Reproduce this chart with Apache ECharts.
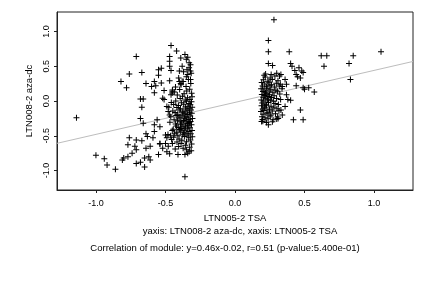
<!DOCTYPE html>
<html>
<head>
<meta charset="utf-8">
<script src="https://cdn.jsdelivr.net/npm/echarts@6/dist/echarts.min.js"></script>
<style>
  html, body { margin: 0; padding: 0; background: #fff; }
  #chart { width: 432px; height: 288px; }
</style>
</head>
<body>
<div id="chart"></div>
<script>
// values
const xTicks = [-1.0, -0.5, 0.0, 0.5, 1.0]
const yTicks = [-1.0, -0.5, 0.0, 0.5, 1.0]
const slope = 0.46
const intercept = -0.02

// left group, scattered points
const leftSparse = [
  [-1.14, -0.24], [-1.0, -0.78], [-0.94, -0.83], [-0.92, -0.92], [-0.86, -0.98],
  [-0.82, 0.28], [-0.78, 0.19], [-0.76, 0.39], [-0.71, 0.64], [-0.67, 0.41],
  [-0.68, 0.03], [-0.66, 0.03], [-0.67, -0.09], [-0.68, -0.25], [-0.66, -0.32],
  [-0.76, -0.53], [-0.77, -0.63], [-0.81, -0.85], [-0.80, -0.82], [-0.77, -0.80],
  [-0.74, -0.75], [-0.72, -0.65], [-0.71, -0.56], [-0.71, -0.70], [-0.71, -0.90],
  [-0.68, -0.88], [-0.67, -0.57], [-0.65, -0.82], [-0.65, -0.95], [-0.64, 0.25],
  [-0.64, -0.68], [-0.62, -0.80], [-0.61, -0.85], [-0.64, -0.47], [-0.63, -0.51],
  [-0.61, -0.65], [-0.60, 0.21], [-0.58, 0.12], [-0.58, 0.28], [-0.57, 0.22],
  [-0.55, 0.37], [-0.55, 0.45], [-0.53, 0.47], [-0.53, 0.26], [-0.59, -0.53],
  [-0.58, -0.44], [-0.58, -0.34], [-0.56, -0.27], [-0.55, -0.77], [-0.54, -0.61],
  [-0.54, -0.37], [-0.52, 0.04], [-0.51, 0.02], [-0.51, 0.15], [-0.54, -0.62],
  [-0.52, -0.68], [-0.50, -0.61], [-0.50, -0.49], [-0.49, -0.53], [-0.49, -0.73],
  [-0.48, -0.65], [-0.47, 0.29], [-0.47, 0.50], [-0.47, 0.64], [-0.46, 0.80],
  [-0.46, 0.44], [-0.47, 0.57], [-0.49, -0.08], [-0.48, -0.15], [-0.47, -0.20],
  [-0.46, 0.09], [-0.45, 0.14], [-0.45, 0.16], [-0.42, 0.72], [-0.40, 0.43],
  [-0.39, 0.62], [-0.38, 0.28], [-0.38, 0.50], [-0.36, 0.67], [-0.35, 0.60],
  [-0.36, -1.09], [-0.34, 0.63], [-0.33, 0.55], [-0.32, 0.52], [-0.32, 0.43],
  [-0.34, 0.38], [-0.35, 0.35], [-0.32, 0.31], [-0.40, 0.28], [-0.39, 0.25],
  [-0.41, -0.77], [-0.36, -0.77], [-0.33, -0.73], [-0.34, -0.75], [-0.47, -0.76],
  [-0.43, -0.69], [-0.45, -0.61]
]

// left group, dense column
const leftDense = [
  [-0.315, 0.40], [-0.345, 0.45], [-0.37, 0.42], [-0.33, 0.48],
  [-0.335, 0.31], [-0.372, 0.28], [-0.405, 0.33], [-0.318, 0.25], [-0.352, 0.21],
  [-0.388, 0.235], [-0.428, 0.20], [-0.326, 0.17], [-0.347, 0.145], [-0.398, 0.165],
  [-0.437, 0.13], [-0.312, 0.11], [-0.366, 0.105], [-0.415, 0.085], [-0.452, 0.115],
  [-0.309, 0.06], [-0.341, 0.045], [-0.377, 0.07], [-0.324, 0.02], [-0.358, 0.015],
  [-0.394, 0.035], [-0.426, 0.0], [-0.313, -0.01], [-0.331, -0.035], [-0.349, -0.005],
  [-0.384, -0.025], [-0.458, -0.02], [-0.321, -0.055], [-0.338, -0.075], [-0.369, -0.045],
  [-0.407, -0.065], [-0.441, -0.05], [-0.308, -0.09], [-0.329, -0.105], [-0.357, -0.085],
  [-0.392, -0.11], [-0.418, -0.095], [-0.476, -0.09], [-0.317, -0.13], [-0.344, -0.14],
  [-0.352, -0.115], [-0.376, -0.155], [-0.401, -0.13], [-0.447, -0.145], [-0.311, -0.175],
  [-0.327, -0.16], [-0.361, -0.185], [-0.373, -0.17], [-0.412, -0.19], [-0.431, -0.165],
  [-0.322, -0.215], [-0.339, -0.195], [-0.354, -0.225], [-0.381, -0.205], [-0.395, -0.23],
  [-0.423, -0.21], [-0.462, -0.225], [-0.306, -0.25], [-0.333, -0.265], [-0.346, -0.24],
  [-0.364, -0.255], [-0.371, -0.28], [-0.403, -0.245], [-0.438, -0.27], [-0.319, -0.295],
  [-0.328, -0.31], [-0.351, -0.29], [-0.383, -0.315], [-0.389, -0.30], [-0.414, -0.285],
  [-0.427, -0.33], [-0.468, -0.305], [-0.313, -0.34], [-0.336, -0.355], [-0.342, -0.325],
  [-0.359, -0.345], [-0.374, -0.37], [-0.392, -0.335], [-0.421, -0.36], [-0.324, -0.385],
  [-0.343, -0.40], [-0.355, -0.375], [-0.386, -0.395], [-0.398, -0.41], [-0.409, -0.38],
  [-0.444, -0.405], [-0.309, -0.425], [-0.331, -0.44], [-0.362, -0.42], [-0.371, -0.455],
  [-0.393, -0.43], [-0.419, -0.45], [-0.451, -0.425], [-0.318, -0.47], [-0.339, -0.49],
  [-0.352, -0.465], [-0.379, -0.485], [-0.411, -0.50], [-0.434, -0.47], [-0.482, -0.48],
  [-0.307, -0.515], [-0.333, -0.53], [-0.364, -0.51], [-0.402, -0.545], [-0.441, -0.52],
  [-0.463, -0.50], [-0.321, -0.56], [-0.349, -0.585], [-0.382, -0.565], [-0.417, -0.59],
  [-0.456, -0.555], [-0.312, -0.62], [-0.357, -0.635], [-0.388, -0.61], [-0.326, -0.665],
  [-0.373, -0.68], [-0.405, -0.655], [-0.315, -0.715], [-0.348, -0.70]
]

// right group, scattered points
const rightSparse = [
  [0.28, 1.17], [0.24, 0.87], [0.24, 0.71], [0.39, 0.71], [0.24, 0.54],
  [0.27, 0.51], [0.40, 0.54], [0.41, 0.50], [0.43, 0.44], [0.46, 0.48],
  [0.48, 0.43], [0.49, 0.41], [0.44, 0.38], [0.45, 0.35], [0.47, 0.33],
  [0.62, 0.65], [0.66, 0.65], [0.64, 0.50], [0.85, 0.65], [0.82, 0.54],
  [0.83, 0.31], [1.05, 0.71], [0.44, 0.22], [0.49, 0.19], [0.50, 0.17],
  [0.53, 0.19], [0.57, 0.13], [0.40, 0.01], [0.47, -0.13], [0.42, -0.27],
  [0.49, -0.27], [0.36, 0.31], [0.37, 0.24], [0.34, 0.21], [0.32, 0.36],
  [0.33, 0.38], [0.30, 0.40], [0.26, 0.38], [0.22, 0.39], [0.21, 0.37],
  [0.37, 0.09], [0.38, 0.02], [0.33, -0.13], [0.36, -0.08], [0.34, -0.20],
  [0.31, -0.25], [0.30, -0.26], [0.24, -0.34], [0.20, -0.29]
]

// right group, dense block
const rightDense = [
  [0.218, 0.345], [0.253, 0.33], [0.287, 0.36], [0.204, 0.305], [0.236, 0.285],
  [0.268, 0.31], [0.309, 0.29], [0.192, 0.265], [0.214, 0.245], [0.243, 0.27],
  [0.262, 0.235], [0.297, 0.255], [0.326, 0.24], [0.198, 0.215], [0.226, 0.205],
  [0.251, 0.225], [0.283, 0.20], [0.318, 0.215], [0.188, 0.175], [0.209, 0.16],
  [0.231, 0.185], [0.257, 0.17], [0.294, 0.155], [0.338, 0.175], [0.201, 0.135],
  [0.219, 0.12], [0.245, 0.145], [0.272, 0.125], [0.305, 0.14], [0.193, 0.095],
  [0.213, 0.08], [0.228, 0.105], [0.249, 0.09], [0.281, 0.075], [0.322, 0.10],
  [0.203, 0.055], [0.222, 0.04], [0.239, 0.065], [0.263, 0.05], [0.299, 0.035],
  [0.189, 0.015], [0.207, 0.0], [0.233, 0.025], [0.254, 0.01], [0.276, -0.005],
  [0.328, 0.02], [0.196, -0.03], [0.217, -0.045], [0.241, -0.02], [0.288, -0.035],
  [0.312, -0.05], [0.191, -0.07], [0.211, -0.085], [0.227, -0.06], [0.259, -0.075],
  [0.279, -0.09], [0.199, -0.115], [0.223, -0.10], [0.248, -0.125], [0.302, -0.11],
  [0.187, -0.15], [0.208, -0.135], [0.237, -0.16], [0.268, -0.145], [0.316, -0.14],
  [0.202, -0.19], [0.229, -0.175], [0.258, -0.20], [0.291, -0.185], [0.194, -0.225],
  [0.216, -0.24], [0.252, -0.215], [0.307, -0.23], [0.198, -0.265], [0.238, -0.255],
  [0.274, -0.27], [0.191, -0.295], [0.226, -0.31], [0.269, -0.30]
]

const xMin = -1.28, xMax = 1.28
const yMin = -1.28, yMax = 1.28

// thin "+" glyph, 1px strokes at size 6
const plus = 'path://M2.5,0h1v2.5h2.5v1h-2.5v2.5h-1v-2.5h-2.5v-1h2.5z'
const font = 'Liberation Sans'

const chart = echarts.init(document.getElementById('chart'), null, { renderer: 'canvas' })

const points = leftSparse.concat(leftDense, rightSparse, rightDense)
const fitLine = [[xMin, slope * xMin + intercept], [xMax, slope * xMax + intercept]]

const option = {
  animation: false,
  backgroundColor: '#fff',
  textStyle: { fontFamily: font },
  grid: {
    left: 57, right: 19, top: 12, bottom: 98,
    show: true, borderColor: '#222', borderWidth: 1, backgroundColor: 'transparent'
  },
  xAxis: {
    type: 'value', min: xMin, max: xMax,
    name: 'LTN005-2 TSA', nameLocation: 'middle', nameGap: 23,
    nameTextStyle: { color: '#000', fontSize: 9.5, fontFamily: font },
    splitLine: { show: false },
    axisLine: { show: true, onZero: false, lineStyle: { color: '#222', width: 1 } },
    axisTick: { show: true, length: 3, customValues: xTicks, lineStyle: { color: '#222' } },
    axisLabel: {
      customValues: xTicks, color: '#000', fontSize: 9, margin: 9,
      formatter: v => v.toFixed(1)
    }
  },
  yAxis: {
    type: 'value', min: yMin, max: yMax,
    name: 'LTN008-2 aza-dc', nameLocation: 'middle', nameGap: 20, nameRotate: 90,
    nameTextStyle: { color: '#000', fontSize: 9.5, fontFamily: font },
    splitLine: { show: false },
    axisLine: { show: true, onZero: false, lineStyle: { color: '#222', width: 1 } },
    axisTick: { show: true, length: 3, customValues: yTicks, lineStyle: { color: '#222' } },
    axisLabel: {
      customValues: yTicks, color: '#000', fontSize: 9, margin: 6, rotate: 90,
      formatter: v => v.toFixed(1)
    }
  },
  series: [
    {
      type: 'line', data: fitLine, symbol: 'none', z: 1,
      lineStyle: { color: '#bdbdbd', width: 1 }
    },
    {
      type: 'scatter', data: points, symbol: plus, symbolSize: 6, z: 2,
      itemStyle: { color: '#000', opacity: 1 }
    }
  ],
  graphic: [
    {
      type: 'text', x: 240, y: 231,
      style: {
        text: 'yaxis: LTN008-2 aza-dc, xaxis: LTN005-2 TSA', fill: '#000',
        font: '9.5px ' + font, align: 'center', verticalAlign: 'middle'
      }
    },
    {
      type: 'text', x: 225, y: 248,
      style: {
        text: 'Correlation of module: y=0.46x-0.02, r=0.51 (p-value:5.400e-01)', fill: '#000',
        font: '9.5px ' + font, align: 'center', verticalAlign: 'middle'
      }
    }
  ]
}

chart.setOption(option)
</script>
</body>
</html>
